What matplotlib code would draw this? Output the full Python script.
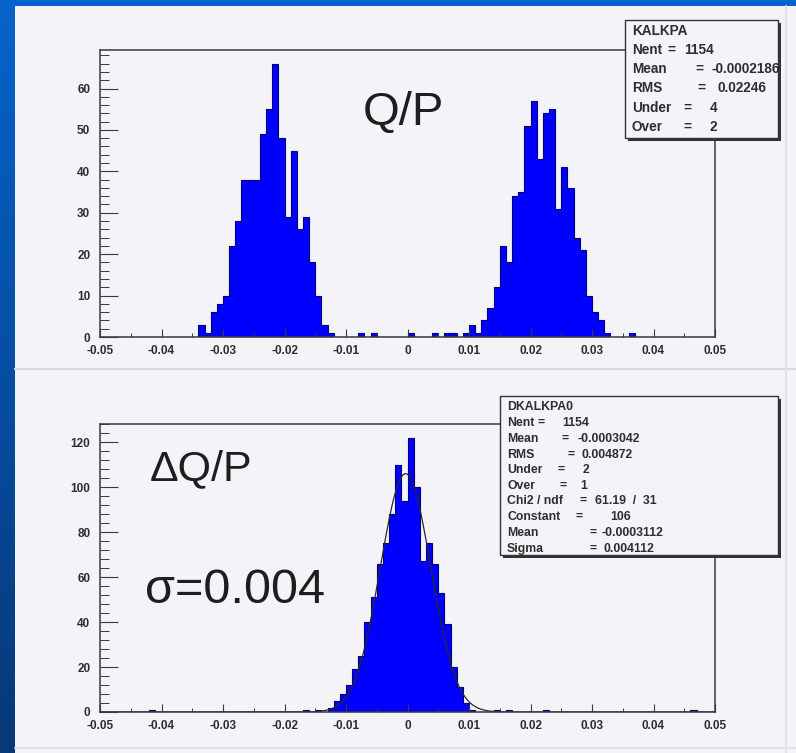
import numpy as np
import matplotlib
matplotlib.use('Agg')
import matplotlib.pyplot as plt
from matplotlib.patches import Rectangle

W, H = 796, 753

# histogram binning: 100 bins from -0.05 to 0.05
edges = np.linspace(-0.05, 0.05, 101)

# Q/P counts, one per bin
top_counts = [
    0, 0, 0, 0, 0, 0, 0, 0, 0, 0,
    0, 0, 0, 0, 0, 0, 3, 1, 6, 8,
    10, 22, 28, 38, 38, 38, 49, 55, 66, 48,
    29, 45, 26, 29, 18, 10, 3, 1, 0, 0,
    0, 0, 1, 0, 1, 0, 0, 0, 0, 0,
    1, 0, 0, 0, 1, 0, 1, 1, 0, 1,
    3, 1, 4, 7, 12, 22, 18, 34, 35, 51,
    57, 43, 54, 55, 31, 41, 36, 24, 21, 10,
    6, 4, 1, 0, 0, 0, 1, 0, 0, 0,
    0, 0, 0, 0, 0, 0, 0, 0, 0, 0,
]

# delta Q/P counts
bot_counts = [
    0, 0, 0, 0, 0, 0, 0, 0, 1, 0,
    0, 0, 0, 0, 0, 0, 0, 0, 0, 0,
    0, 0, 0, 0, 0, 0, 0, 0, 0, 0,
    0, 0, 0, 1, 0, 1, 0, 2, 5, 8,
    12, 19, 25, 40, 51, 66, 75, 88, 110, 94,
    122, 100, 67, 75, 66, 53, 39, 20, 11, 4,
    1, 0, 0, 0, 1, 0, 1, 0, 0, 0,
    0, 0, 1, 0, 0, 0, 0, 0, 0, 0,
    0, 0, 0, 0, 0, 0, 0, 0, 0, 0,
    0, 0, 0, 0, 0, 0, 1, 0, 0, 0,
]

# gaussian fit parameters (from the stats box)
fit_const = 106
fit_mean = -0.0003112
fit_sigma = 0.004112

x_ticks = [-0.05, -0.04, -0.03, -0.02, -0.01, 0.0, 0.01, 0.02, 0.03, 0.04, 0.05]
x_labels = ['-0.05', '-0.04', '-0.03', '-0.02', '-0.01', '0',
            '0.01', '0.02', '0.03', '0.04', '0.05']
top_yticks = [0, 10, 20, 30, 40, 50, 60]
bot_yticks = [0, 20, 40, 60, 80, 100, 120]

top_stat_names = ['KALKPA', 'Nent', 'Mean', 'RMS', 'Under', 'Over']
top_stat_values = ['', '1154', '-0.0002186', '0.02246', '4', '2']
bot_stat_names = ['DKALKPA0', 'Nent', 'Mean', 'RMS', 'Under', 'Over',
                  'Chi2 / ndf', 'Constant', 'Mean', 'Sigma']
bot_stat_values = ['', '1154', '-0.0003042', '0.004872', '2', '1',
                   '61.19  /  31', '106', '-0.0003112', '0.004112']

# layout of the stats text (pixels)
top_rows = [31, 50, 69, 88, 108, 127]
top_eq_x = [None, 667, 695, 697, 683, 683]
top_val_x = [None, 684, 712, 718, 710, 710]
bot_rows = [407, 423, 439, 455, 470, 486, 501, 517, 533, 549]
bot_eq_x = [None, 537, 562, 567, 557, 559, 579, 575, 589, 589]
bot_val_x = [None, 562, 577, 582, 583, 580, 595, 610, 602, 603]

panel = '#f4f3f8'
frame = '#3a3a3a'
txt = '#2e2e2e'
font = 'Liberation Sans'


def fx(px):
    return px / W


def fy(py):
    return 1 - py / H


fig = plt.figure(figsize=(W / 100, H / 100), dpi=100)

# blue slide background + light canvas
bg = fig.add_axes([0, 0, 1, 1], zorder=-10)
grad = np.linspace(0, 1, 256)[:, None]
top_c = np.array([0.02, 0.39, 0.80])
bot_c = np.array([0.03, 0.22, 0.47])
img = top_c[None, None, :] * (1 - grad[..., None]) + bot_c[None, None, :] * grad[..., None]
img = np.repeat(img, 2, axis=1)
bg.imshow(img, extent=[0, W, H, 0], aspect='auto')
bg.set_xlim(0, W)
bg.set_ylim(H, 0)
bg.axis('off')
bg.add_patch(Rectangle((15, 6), W - 15, H - 6, color=panel, lw=0))
bg.plot([15, W], [369, 369], color='#d6d6dc', lw=1.5)
bg.plot([15, W], [748, 748], color='#dedee4', lw=1.2)
bg.plot([786, 786], [6, H], color='#dedee4', lw=1.2)


def make_axes(top_px, bottom_px, counts, yticks, yminor):
    ax = fig.add_axes([fx(100), fy(bottom_px), fx(715) - fx(100), (bottom_px - top_px) / H])
    ax.set_facecolor(panel)
    ax.stairs(counts, edges, fill=True, color='#0000ff', lw=0)
    ax.stairs(counts, edges, color='#00007a', lw=0.8)
    ax.set_xlim(-0.05, 0.05)
    ax.set_ylim(0, max(counts) * 1.05)
    for s in ax.spines.values():
        s.set_color(frame)
        s.set_linewidth(1.1)
    ax.set_xticks(x_ticks)
    ax.set_xticklabels(x_labels)
    ax.set_xticks(np.arange(-0.05, 0.0501, 0.005), minor=True)
    ax.set_yticks(yticks)
    ax.set_yticklabels([str(v) for v in yticks])
    ax.set_yticks(np.arange(0, max(counts) * 1.05, yminor), minor=True)
    ax.tick_params(axis='y', which='major', direction='in', length=13, width=0.8,
                   color=frame, pad=7, labelsize=8.5, labelcolor=txt)
    ax.tick_params(axis='y', which='minor', direction='in', length=6.5, width=0.7, color=frame)
    ax.tick_params(axis='x', which='major', direction='in', length=6, width=0.8,
                   color=frame, pad=6, labelsize=8.5, labelcolor=txt)
    ax.tick_params(axis='x', which='minor', direction='in', length=3, width=0.7, color=frame)
    for lab in ax.get_xticklabels() + ax.get_yticklabels():
        lab.set_fontfamily(font)
        lab.set_fontweight('bold')
    return ax


ax1 = make_axes(50, 337, top_counts, top_yticks, 2)
ax2 = make_axes(424, 712, bot_counts, bot_yticks, 4)

xs = np.linspace(-0.05, 0.05, 1200)
ax2.plot(xs, fit_const * np.exp(-0.5 * ((xs - fit_mean) / fit_sigma) ** 2),
         color='#2a2a2a', lw=0.9)

# big labels
fig.text(fx(363), fy(125), 'Q/P', fontsize=34, family=font, color='#1e1e1e', va='baseline')
fig.text(fx(150), fy(480), '\u0394Q/P', fontsize=31, family=font, color='#1e1e1e', va='baseline')
fig.text(fx(145), fy(603), '\u03c3=0.004', fontsize=35, family=font, color='#1e1e1e', va='baseline')


def stats_box(x0, y0, x1, y1, names, values, rows, eq_x, val_x, size):
    fig.add_artist(Rectangle((fx(x0 + 3), fy(y1 + 3)), fx(x1) - fx(x0), (y1 - y0) / H,
                             transform=fig.transFigure, color='#333333', lw=0, zorder=5))
    fig.add_artist(Rectangle((fx(x0), fy(y1)), fx(x1) - fx(x0), (y1 - y0) / H,
                             transform=fig.transFigure, facecolor=panel,
                             edgecolor='#333333', lw=1.0, zorder=6))
    for i, name in enumerate(names):
        kw = dict(fontsize=size, family=font, fontweight='bold', color=txt, va='center', zorder=7)
        fig.text(fx(x0 + 7), fy(rows[i]), name, **kw)
        if eq_x[i] is not None:
            fig.text(fx(eq_x[i]), fy(rows[i]), '=', **kw)
            fig.text(fx(val_x[i]), fy(rows[i]), values[i], **kw)


stats_box(625, 20, 778, 138, top_stat_names, top_stat_values,
          top_rows, top_eq_x, top_val_x, 9.8)
stats_box(500, 396, 778, 555, bot_stat_names, bot_stat_values,
          bot_rows, bot_eq_x, bot_val_x, 8.8)

fig.savefig('out.png', dpi=100)
